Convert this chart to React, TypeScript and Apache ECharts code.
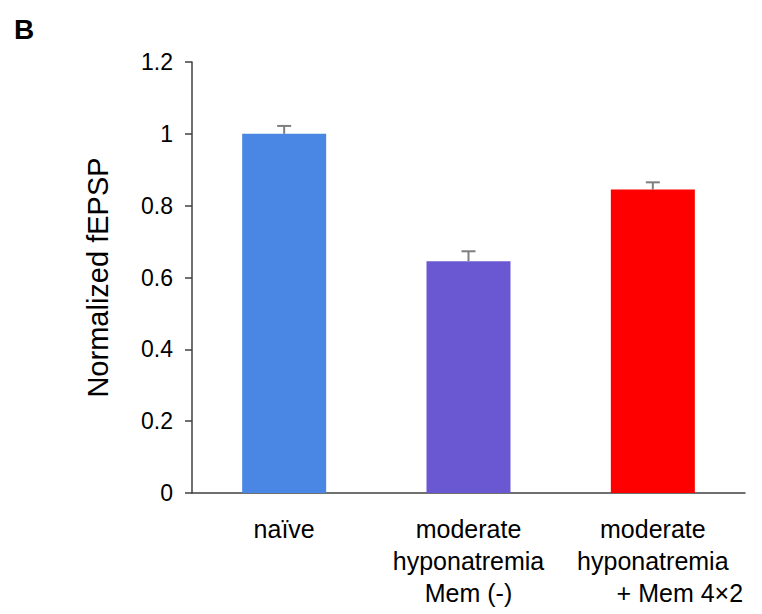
import React, { useEffect, useRef } from "react";
import * as echarts from "echarts";

const categories = ["naïve", "moderate\nhyponatremia\nMem (-)", "moderate\nhyponatremia\n+ Mem 4×2"];
const values = [1.0, 0.645, 0.845];
const errors = [0.022, 0.028, 0.02];
const barColors = ["#4a86e3", "#6a58d2", "#ff0000"];
const yTicks = [0, 0.2, 0.4, 0.6, 0.8, 1, 1.2];

const FONT = "'Liberation Sans', Arial, sans-serif";

export default function App() {
  const ref = useRef<HTMLDivElement>(null);
  useEffect(() => {
    document.body.style.margin = "0";
    const chart = echarts.init(ref.current!, null, { renderer: "svg" });
    chart.setOption({
      animation: false,
      backgroundColor: "#ffffff",
      graphic: [
        {
          type: "text",
          left: 14,
          top: 15,
          style: { text: "B", font: `bold 28px ${FONT}`, fill: "#000" },
        },
      ],
      grid: { left: 192, right: 17, top: 62, bottom: 121, containLabel: false },
      xAxis: {
        type: "category",
        data: categories,
        axisLine: { lineStyle: { color: "#404040", width: 1.5 } },
        axisTick: { show: false },
        axisLabel: {
          interval: 0,
          margin: 20,
          fontSize: 25,
          lineHeight: 32,
          color: "#000",
          fontFamily: FONT,
          formatter: (v: string) => {
            const lines = v.split("\n");
            if (lines.length === 3 && lines[2].startsWith("+")) {
              return lines[0] + "\n" + lines[1] + "\n{s|" + lines[2] + "}";
            }
            return v;
          },
          rich: {
            s: { fontSize: 25, fontFamily: FONT, color: "#000", padding: [0, 0, 0, 54], lineHeight: 32 },
          },
        },
      },
      yAxis: {
        type: "value",
        min: yTicks[0],
        max: yTicks[yTicks.length - 1],
        interval: 0.2,
        name: "Normalized fEPSP",
        nameLocation: "middle",
        nameGap: 80,
        nameTextStyle: { fontSize: 29, color: "#000", fontFamily: FONT },
        splitLine: { show: false },
        axisLine: { show: true, lineStyle: { color: "#404040", width: 1.5 } },
        axisTick: { show: true, length: 7, lineStyle: { color: "#404040", width: 1.5 } },
        axisLabel: {
          margin: 19,
          fontSize: 23,
          color: "#000",
          fontFamily: FONT,
          formatter: (v: number) => String(Math.round(v * 10) / 10),
        },
      },
      series: [
        {
          type: "bar",
          barWidth: 84,
          data: values.map((v, i) => ({ value: v, itemStyle: { color: barColors[i] } })),
        },
        {
          type: "custom",
          data: values.map((v, i) => [i, v, v + errors[i]]),
          z: 5,
          renderItem: (params: any, api: any) => {
            const x = api.value(0);
            const base = api.coord([x, api.value(1)]);
            const top = api.coord([x, api.value(2)]);
            const half = 7;
            const style = { stroke: "#7f7f7f", lineWidth: 2 };
            return {
              type: "group",
              children: [
                { type: "line", shape: { x1: base[0], y1: base[1], x2: top[0], y2: top[1] }, style },
                { type: "line", shape: { x1: top[0] - half, y1: top[1], x2: top[0] + half, y2: top[1] }, style },
              ],
            };
          },
        },
      ],
    });
    return () => chart.dispose();
  }, []);
  return <div ref={ref} style={{ width: 762, height: 614 }} />;
}
